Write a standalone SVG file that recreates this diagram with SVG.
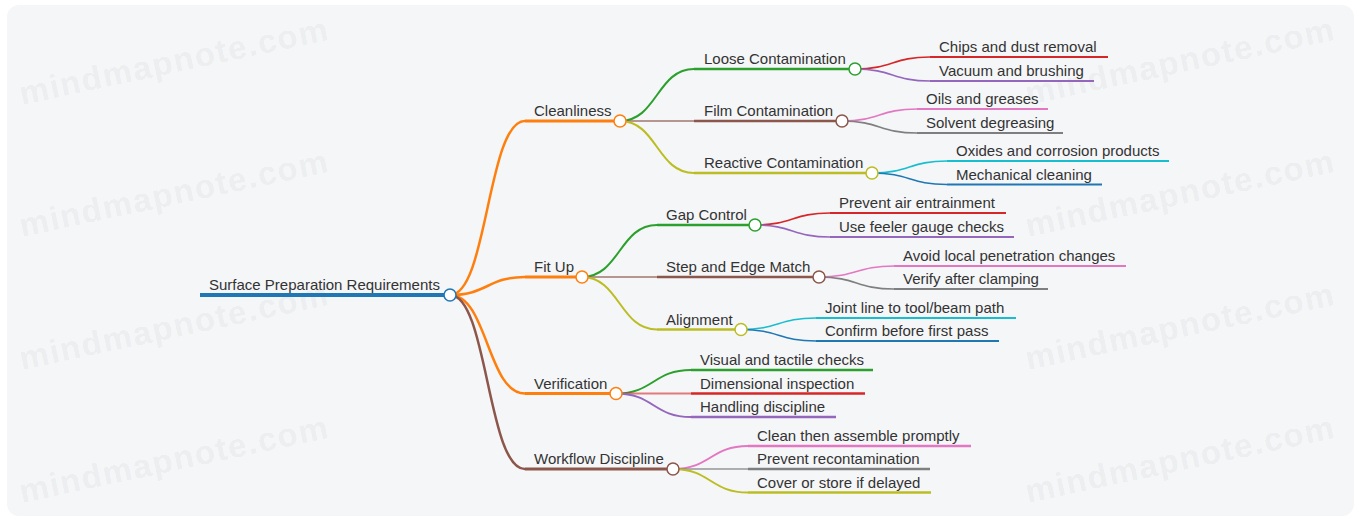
<svg xmlns="http://www.w3.org/2000/svg" width="1361" height="521" viewBox="0 0 1361 521">
<style>
.bg{fill:#f5f6f8}
.wm{font-family:"Liberation Sans",Arial,sans-serif;font-weight:bold;font-size:33px;letter-spacing:1.5px;fill:#000;fill-opacity:0.055}
.t{font-family:"Liberation Sans",Arial,sans-serif;font-size:15px;fill:#333}
.ln{fill:none;stroke-linecap:butt}
.d0{stroke-width:4}
.d1{stroke-width:3}
.d2{stroke-width:2.5}
.d3{stroke-width:2}
.lk{fill:none}
.k1{stroke-width:2.5}
.k2{stroke-width:2}
.k3{stroke-width:1.6}
.flat{stroke-opacity:0.6}
.dot{fill:#fff;stroke-width:1.5}
</style>
<rect x="0" y="0" width="1361" height="521" fill="#fff"/>
<rect class="bg" x="7" y="5" width="1347" height="511" rx="12"/>
<g id="watermarks">
<text class="wm" transform="translate(22,105) rotate(-12)">mindmapnote.com</text>
<text class="wm" transform="translate(22,237) rotate(-12)">mindmapnote.com</text>
<text class="wm" transform="translate(22,370) rotate(-12)">mindmapnote.com</text>
<text class="wm" transform="translate(22,503) rotate(-12)">mindmapnote.com</text>
<text class="wm" transform="translate(1028,105) rotate(-12)">mindmapnote.com</text>
<text class="wm" transform="translate(1028,237) rotate(-12)">mindmapnote.com</text>
<text class="wm" transform="translate(1028,370) rotate(-12)">mindmapnote.com</text>
<text class="wm" transform="translate(1028,503) rotate(-12)">mindmapnote.com</text>
</g>
<g id="connectors">
<path class="lk k1" stroke="#ff7f0e" d="M450,295 C487.5,295 487.5,121 525,121"/>
<path class="lk k1" stroke="#ff7f0e" d="M450,295 C487.5,295 487.5,277 525,277"/>
<path class="lk k1" stroke="#ff7f0e" d="M450,295 C487.5,295 487.5,393.5 525,393.5"/>
<path class="lk k1" stroke="#8c564b" d="M450,295 C487.5,295 487.5,469 525,469"/>
<path class="lk k2" stroke="#2ca02c" d="M620,121 C657,121 657,69 694,69"/>
<path class="lk k2 flat" stroke="#8c564b" d="M620,121 L694,121"/>
<path class="lk k2" stroke="#bcbd22" d="M620,121 C657,121 657,173 694,173"/>
<path class="lk k2" stroke="#2ca02c" d="M582,277 C619.5,277 619.5,225 657,225"/>
<path class="lk k2 flat" stroke="#8c564b" d="M582,277 L657,277"/>
<path class="lk k2" stroke="#bcbd22" d="M582,277 C619.5,277 619.5,329.5 657,329.5"/>
<path class="lk k2" stroke="#2ca02c" d="M616,393.5 C653.5,393.5 653.5,370 691,370"/>
<path class="lk k2 flat" stroke="#d62728" d="M616,393.5 L691,393.5"/>
<path class="lk k2" stroke="#9467bd" d="M616,393.5 C653.5,393.5 653.5,417 691,417"/>
<path class="lk k2" stroke="#e377c2" d="M673,469 C710.5,469 710.5,446 748,446"/>
<path class="lk k2 flat" stroke="#7f7f7f" d="M673,469 L748,469"/>
<path class="lk k2" stroke="#bcbd22" d="M673,469 C710.5,469 710.5,492.5 748,492.5"/>
<path class="lk k3" stroke="#d62728" d="M855,69 C892.5,69 892.5,57 930,57"/>
<path class="lk k3" stroke="#9467bd" d="M855,69 C892.5,69 892.5,81 930,81"/>
<path class="lk k3" stroke="#e377c2" d="M842,121 C879.5,121 879.5,109 917,109"/>
<path class="lk k3" stroke="#7f7f7f" d="M842,121 C879.5,121 879.5,133 917,133"/>
<path class="lk k3" stroke="#17becf" d="M872,173 C909.5,173 909.5,161 947,161"/>
<path class="lk k3" stroke="#1f77b4" d="M872,173 C909.5,173 909.5,184.5 947,184.5"/>
<path class="lk k3" stroke="#d62728" d="M755,225 C792.5,225 792.5,213 830,213"/>
<path class="lk k3" stroke="#9467bd" d="M755,225 C792.5,225 792.5,237 830,237"/>
<path class="lk k3" stroke="#e377c2" d="M819,277 C856.5,277 856.5,266 894,266"/>
<path class="lk k3" stroke="#7f7f7f" d="M819,277 C856.5,277 856.5,289 894,289"/>
<path class="lk k3" stroke="#17becf" d="M741,329.5 C778.5,329.5 778.5,318 816,318"/>
<path class="lk k3" stroke="#1f77b4" d="M741,329.5 C778.5,329.5 778.5,341 816,341"/>
</g>
<g id="node-root"><line class="ln d0" stroke="#1f77b4" x1="200" y1="295" x2="450" y2="295"/><text class="t" x="209" y="290">Surface Preparation Requirements</text><circle class="dot" stroke="#1f77b4" cx="450" cy="295" r="6"/></g>
<g id="node-cleanliness"><line class="ln d1" stroke="#ff7f0e" x1="525" y1="121" x2="620" y2="121"/><text class="t" x="534" y="116">Cleanliness</text><circle class="dot" stroke="#ff7f0e" cx="620" cy="121" r="6"/></g>
<g id="node-fitup"><line class="ln d1" stroke="#ff7f0e" x1="525" y1="277" x2="582" y2="277"/><text class="t" x="534" y="272">Fit Up</text><circle class="dot" stroke="#ff7f0e" cx="582" cy="277" r="6"/></g>
<g id="node-verification"><line class="ln d1" stroke="#ff7f0e" x1="525" y1="393.5" x2="616" y2="393.5"/><text class="t" x="534" y="388.5">Verification</text><circle class="dot" stroke="#ff7f0e" cx="616" cy="393.5" r="6"/></g>
<g id="node-workflow"><line class="ln d1" stroke="#8c564b" x1="525" y1="469" x2="673" y2="469"/><text class="t" x="534" y="464">Workflow Discipline</text><circle class="dot" stroke="#8c564b" cx="673" cy="469" r="6"/></g>
<g id="node-loose"><line class="ln d2" stroke="#2ca02c" x1="694" y1="69" x2="855" y2="69"/><text class="t" x="704" y="64">Loose Contamination</text><circle class="dot" stroke="#2ca02c" cx="855" cy="69" r="6"/></g>
<g id="node-film"><line class="ln d2" stroke="#8c564b" x1="694" y1="121" x2="842" y2="121"/><text class="t" x="704" y="116">Film Contamination</text><circle class="dot" stroke="#8c564b" cx="842" cy="121" r="6"/></g>
<g id="node-reactive"><line class="ln d2" stroke="#bcbd22" x1="694" y1="173" x2="872" y2="173"/><text class="t" x="704" y="168">Reactive Contamination</text><circle class="dot" stroke="#bcbd22" cx="872" cy="173" r="6"/></g>
<g id="node-gap"><line class="ln d2" stroke="#2ca02c" x1="657" y1="225" x2="755" y2="225"/><text class="t" x="666" y="220">Gap Control</text><circle class="dot" stroke="#2ca02c" cx="755" cy="225" r="6"/></g>
<g id="node-step"><line class="ln d2" stroke="#8c564b" x1="657" y1="277" x2="819" y2="277"/><text class="t" x="666" y="272">Step and Edge Match</text><circle class="dot" stroke="#8c564b" cx="819" cy="277" r="6"/></g>
<g id="node-alignment"><line class="ln d2" stroke="#bcbd22" x1="657" y1="329.5" x2="741" y2="329.5"/><text class="t" x="666" y="324.5">Alignment</text><circle class="dot" stroke="#bcbd22" cx="741" cy="329.5" r="6"/></g>
<g id="node-visual"><line class="ln d2" stroke="#2ca02c" x1="691" y1="370" x2="873" y2="370"/><text class="t" x="700" y="365">Visual and tactile checks</text></g>
<g id="node-dimensional"><line class="ln d2" stroke="#d62728" x1="691" y1="393.5" x2="865" y2="393.5"/><text class="t" x="700" y="388.5">Dimensional inspection</text></g>
<g id="node-handling"><line class="ln d2" stroke="#9467bd" x1="691" y1="417" x2="836" y2="417"/><text class="t" x="700" y="412">Handling discipline</text></g>
<g id="node-clean"><line class="ln d2" stroke="#e377c2" x1="748" y1="446" x2="971" y2="446"/><text class="t" x="757" y="441">Clean then assemble promptly</text></g>
<g id="node-prevent-recont"><line class="ln d2" stroke="#7f7f7f" x1="748" y1="469" x2="930" y2="469"/><text class="t" x="757" y="464">Prevent recontamination</text></g>
<g id="node-cover"><line class="ln d2" stroke="#bcbd22" x1="748" y1="492.5" x2="931" y2="492.5"/><text class="t" x="757" y="487.5">Cover or store if delayed</text></g>
<g id="node-chips"><line class="ln d3" stroke="#d62728" x1="930" y1="57" x2="1108" y2="57"/><text class="t" x="939" y="52">Chips and dust removal</text></g>
<g id="node-vacuum"><line class="ln d3" stroke="#9467bd" x1="930" y1="81" x2="1094" y2="81"/><text class="t" x="939" y="76">Vacuum and brushing</text></g>
<g id="node-oils"><line class="ln d3" stroke="#e377c2" x1="917" y1="109" x2="1048" y2="109"/><text class="t" x="926" y="104">Oils and greases</text></g>
<g id="node-solvent"><line class="ln d3" stroke="#7f7f7f" x1="917" y1="133" x2="1063" y2="133"/><text class="t" x="926" y="128">Solvent degreasing</text></g>
<g id="node-oxides"><line class="ln d3" stroke="#17becf" x1="947" y1="161" x2="1169" y2="161"/><text class="t" x="956" y="156">Oxides and corrosion products</text></g>
<g id="node-mechanical"><line class="ln d3" stroke="#1f77b4" x1="947" y1="184.5" x2="1102" y2="184.5"/><text class="t" x="956" y="179.5">Mechanical cleaning</text></g>
<g id="node-air"><line class="ln d3" stroke="#d62728" x1="830" y1="213" x2="1006" y2="213"/><text class="t" x="839" y="208">Prevent air entrainment</text></g>
<g id="node-feeler"><line class="ln d3" stroke="#9467bd" x1="830" y1="237" x2="1014" y2="237"/><text class="t" x="839" y="232">Use feeler gauge checks</text></g>
<g id="node-avoid"><line class="ln d3" stroke="#e377c2" x1="894" y1="266" x2="1126" y2="266"/><text class="t" x="903" y="261">Avoid local penetration changes</text></g>
<g id="node-verify"><line class="ln d3" stroke="#7f7f7f" x1="894" y1="289" x2="1048" y2="289"/><text class="t" x="903" y="284">Verify after clamping</text></g>
<g id="node-joint"><line class="ln d3" stroke="#17becf" x1="816" y1="318" x2="1016" y2="318"/><text class="t" x="825" y="313">Joint line to tool/beam path</text></g>
<g id="node-confirm"><line class="ln d3" stroke="#1f77b4" x1="816" y1="341" x2="999" y2="341"/><text class="t" x="825" y="336">Confirm before first pass</text></g>
</svg>
